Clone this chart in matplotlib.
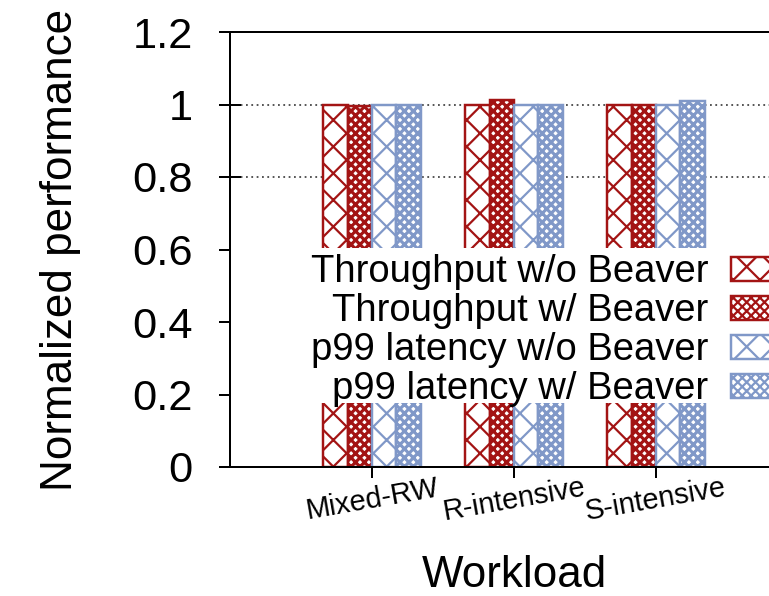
import matplotlib
matplotlib.use("Agg")
import matplotlib.pyplot as plt
import matplotlib.transforms as mtransforms
from matplotlib.patches import Rectangle
import numpy as np

plt.rcParams['font.family'] = ['Liberation Sans', 'DejaVu Sans']
plt.rcParams['hatch.linewidth'] = 1.0

# Workloads and normalized results per configuration
workloads = ["Mixed-RW", "R-intensive", "S-intensive"]
series_labels = ["Throughput w/o Beaver", "Throughput w/ Beaver",
                 "p99 latency w/o Beaver", "p99 latency w/ Beaver"]
tput_without = [1.0, 1.0, 1.0]
tput_with = [0.997, 1.012, 0.998]
p99_without = [1.0, 1.0, 1.0]
p99_with = [1.0, 0.998, 1.01]
ytick_values = [0, 0.2, 0.4, 0.6, 0.8, 1.0, 1.2]
ytick_labels = ["0", "0.2", "0.4", "0.6", "0.8", "1", "1.2"]

RED = "#a31414"
BLUE = "#8098c8"

DPI = 160
W, H = 769, 596
fig = plt.figure(figsize=(W / DPI, H / DPI), dpi=DPI)
# axes box runs past the right edge of the canvas
left_px, right_px, top_px, bottom_px = 230, 798, 32, 467
ax = fig.add_axes([left_px / W, 1 - bottom_px / H,
                   (right_px - left_px) / W, (bottom_px - top_px) / H])

x = np.arange(1, len(workloads) + 1)
bw = 0.172
series = [tput_without, tput_with, p99_without, p99_with]
colors = [RED, RED, BLUE, BLUE]
hatches = ["xx", "xxxxxx", "xx", "xxxxxx"]
hatch_lw = [1.0, 1.4, 1.0, 1.4]
handles = []
for i, (vals, c, h, hl) in enumerate(zip(series, colors, hatches, hatch_lw)):
    bars = ax.bar(x + (i - 1.5) * bw, vals, bw, facecolor="white",
                  edgecolor=c, hatch=h, linewidth=1.1, zorder=2,
                  label=series_labels[i])
    for b in bars:
        try:
            b.set_hatch_linewidth(hl)
        except AttributeError:
            pass
    handles.append(bars)

ax.set_xlim(0, 4)
ax.set_ylim(0, 1.2)
ax.set_yticks(ytick_values)
ax.set_yticklabels(ytick_labels, fontsize=19.5)
ax.set_xticks(x)
ax.set_xticklabels(workloads, fontsize=13, rotation=10, ha="center")
ax.tick_params(axis="y", direction="inout", length=9.5, width=0.9, pad=12)
ax.tick_params(axis="x", direction="inout", length=10, width=0.9, pad=-2)
ax.tick_params(axis="y", right=False)

ax.yaxis.grid(True, linestyle=(0, (1, 2)), color="#444444", linewidth=0.8)
ax.set_axisbelow(True)

for s in ax.spines.values():
    s.set_linewidth(0.9)
    s.set_zorder(3)

ax.set_ylabel("Normalized performance", fontsize=19.8, labelpad=23)
ax.set_xlabel("Workload", fontsize=19.8, labelpad=13)

# opaque key background
trans = mtransforms.blended_transform_factory(ax.transAxes, ax.transData)
ax.add_patch(Rectangle((0, 0.177), 1, 0.427, transform=trans,
                       facecolor="white", edgecolor="none", zorder=2.2))

leg = ax.legend(handles=handles, labels=series_labels, loc="center right",
                bbox_to_anchor=(0.99, 0.313), frameon=False, markerfirst=False,
                fontsize=17.2, handlelength=1.6, handleheight=0.6,
                handletextpad=0.6, labelspacing=0.08, borderpad=0,
                borderaxespad=0)
leg.set_zorder(5)

fig.savefig("out.png", dpi=DPI)
